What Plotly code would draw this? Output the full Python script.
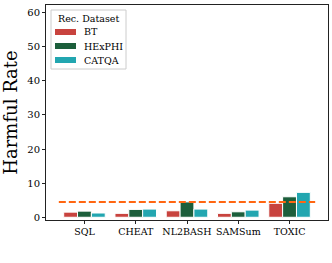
import plotly.graph_objects as go

categories = ["SQL", "CHEAT", "NL2BASH", "SAMSum", "TOXIC"]
bt = [1.5, 1.15, 1.9, 1.15, 4.1]
hexphi = [1.8, 2.3, 4.5, 1.6, 6.0]
catqa = [1.25, 2.4, 2.4, 2.1, 7.3]
threshold = 4.5
y_ticks = [0, 10, 20, 30, 40, 50, 60]
legend_title = "Rec. Dataset"

series = [("BT", bt, "#c8433e"), ("HExPHI", hexphi, "#1c5e3b"), ("CATQA", catqa, "#22a6b0")]
xs = list(range(len(categories)))

W, H = 332, 263
ML, MR, MT, MB = 46, 4, 5, 43
PW, PH = W - ML - MR, H - MT - MB


def px_x(p):
    return (p - ML) / PW


def px_y(p):
    return (H - MB - p) / PH


fig = go.Figure()
for name, vals, col in series:
    fig.add_trace(go.Bar(x=xs, y=vals, name=name, showlegend=False,
                         marker=dict(color=col, line=dict(color="white", width=1))))

fig.add_trace(go.Scatter(x=[xs[0] - 0.5, xs[-1] + 0.5], y=[threshold, threshold], mode="lines",
                         line=dict(color="#ff6611", width=2, dash="7px,3px"), showlegend=False, hoverinfo="skip"))

font = "DejaVu Serif"

# legend box (matplotlib-style)
shapes = [dict(type="rect", xref="paper", yref="paper", x0=px_x(51), x1=px_x(126), y0=px_y(69), y1=px_y(10),
               line=dict(color="#cccccc", width=1), fillcolor="white", layer="above")]
annotations = [dict(text=legend_title, xref="paper", yref="paper", x=px_x(88.5), y=px_y(18),
                    xanchor="center", yanchor="middle", showarrow=False, font=dict(family=font, size=9.5))]
for i, (name, vals, col) in enumerate(series):
    cy = 32 + 14 * i
    shapes.append(dict(type="rect", xref="paper", yref="paper", x0=px_x(55), x1=px_x(76),
                       y0=px_y(cy + 3), y1=px_y(cy - 3), line=dict(width=0), fillcolor=col, layer="above"))
    annotations.append(dict(text=name, xref="paper", yref="paper", x=px_x(82), y=px_y(cy),
                            xanchor="left", yanchor="middle", showarrow=False, font=dict(family=font, size=9.5)))

fig.update_layout(
    width=W, height=H,
    margin=dict(l=ML, r=MR, t=MT, b=MB),
    paper_bgcolor="white", plot_bgcolor="white",
    barmode="group", bargap=0.19, bargroupgap=0,
    font=dict(family=font, size=10, color="black"),
    showlegend=False,
    shapes=shapes, annotations=annotations,
)
fig.update_xaxes(range=[-0.75, 4.75], tickmode="array", tickvals=xs, ticktext=categories,
                 tickangle=0,
                 showline=True, linecolor="#222", linewidth=1, mirror=True,
                 ticks="outside", ticklen=3, tickcolor="#222", showgrid=False, zeroline=False,
                 tickfont=dict(family=font, size=9.5))
fig.update_yaxes(range=[-0.8, 62.2], tickmode="array", tickvals=y_ticks,
                 showline=True, linecolor="#222", linewidth=1, mirror=True,
                 ticks="outside", ticklen=3, tickcolor="#222", showgrid=False, zeroline=False,
                 tickfont=dict(family=font, size=10),
                 title=dict(text="Harmful Rate", font=dict(family=font, size=18), standoff=6))

fig.write_html("out.html", config={"displayModeBar": False},
               post_script="document.body.style.margin='0';")
